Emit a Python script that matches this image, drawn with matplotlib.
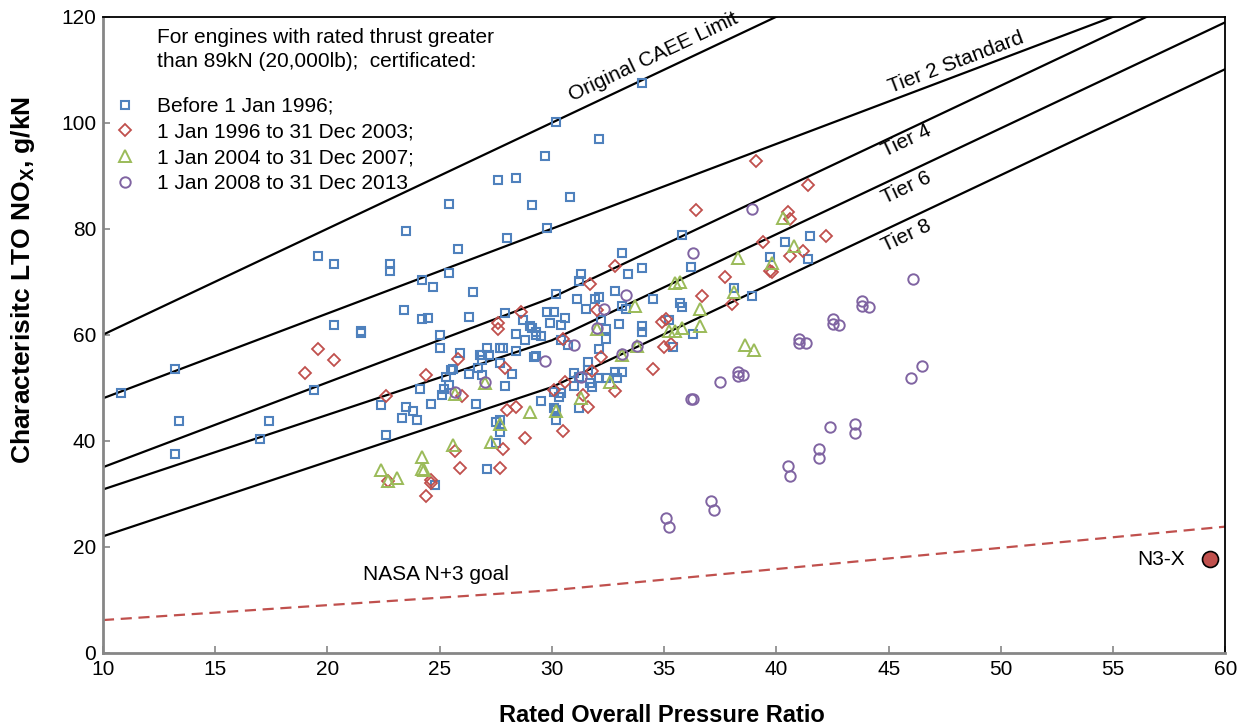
import numpy as np
import matplotlib
matplotlib.use("Agg")
import matplotlib.pyplot as plt

plt.rcParams['font.family'] = ['Liberation Sans', 'DejaVu Sans']
plt.rcParams['mathtext.fontset'] = 'custom'
plt.rcParams['mathtext.rm'] = 'Liberation Sans'
plt.rcParams['mathtext.bf'] = 'Liberation Sans:bold'

# ---------------- data ----------------
# regulatory limit lines (OPR breakpoints, g/kN)
limit_opr = [10, 30, 60]
caee_orig = [60, 100, 160]
tier2 = [48, 80, 128]
tier4 = [35, 67, 127]
tier6 = [30.8, 58.96, 118.96]
tier8 = [21.96, 50.12, 110.12]
nasa_n3 = [6.16, 11.79, 23.79]

# Before 1 Jan 1996
pre96_opr = [10.8, 13.2, 13.4, 13.2, 17.0, 17.4, 19.6, 20.3, 20.3, 21.5, 21.5,
             22.8, 22.8, 23.5, 23.4, 24.2, 24.2, 24.5, 24.7, 25.4, 25.4, 25.8, 26.3, 26.5, 25.0, 25.0, 25.9,
             19.4, 22.4, 24.1, 23.5, 23.8, 23.3, 24.0, 24.6, 25.1, 25.2, 25.4, 25.3, 25.5, 25.6, 26.3, 26.6, 22.6, 24.8,
             26.9, 26.9, 27.1, 27.2, 27.8, 26.7, 27.7, 27.9, 27.5, 27.7, 27.7, 27.5, 27.1,
             27.6, 28.4, 29.7, 30.2, 32.1, 34.0, 29.1, 30.8, 29.8, 28.0, 35.8, 40.4, 41.5,
             33.1, 34.0, 33.4, 31.3, 31.2, 30.2, 31.1, 32.1, 32.8, 31.5, 31.9, 33.1, 33.3, 27.9, 29.8, 30.1, 30.6,
             29.9, 30.4, 28.7, 29.0, 29.1, 29.3, 28.4, 33.0, 34.0, 34.0, 32.2, 32.4, 32.4, 32.1,
             28.8, 29.3, 29.5, 30.4, 30.7, 27.7, 28.4, 26.8, 29.2, 29.3, 26.9, 28.2,
             31.0, 31.0, 31.2, 31.6, 31.6, 31.7, 31.8, 32.1, 32.8, 33.1, 32.9, 32.4,
             30.1, 30.3, 30.4, 30.1, 30.2, 30.2, 29.5, 31.2,
             35.4, 35.2, 36.3, 34.5, 35.7, 35.8, 36.2, 39.7, 41.4, 38.1, 38.9]
pre96_nox = [49.0, 53.5, 43.7, 37.4, 40.4, 43.8, 74.9, 73.4, 61.9, 60.7, 60.4,
             73.3, 72.0, 79.6, 64.7, 70.3, 63.0, 63.1, 69.0, 84.7, 71.6, 76.2, 63.3, 68.1, 60.0, 57.5, 56.6,
             49.5, 46.7, 49.7, 46.4, 45.6, 44.3, 44.0, 46.9, 48.6, 49.7, 50.5, 52.0, 53.3, 53.5, 52.5, 47.0, 41.0, 31.7,
             56.1, 55.2, 57.5, 56.2, 57.5, 53.8, 54.7, 50.3, 43.6, 44.0, 41.7, 39.6, 34.7,
             89.2, 89.6, 93.8, 100.2, 96.9, 107.5, 84.5, 86.0, 80.2, 78.3, 78.9, 77.4, 78.6,
             75.5, 72.5, 71.4, 71.4, 70.1, 67.7, 66.7, 67.2, 68.2, 64.9, 66.7, 65.5, 64.9, 64.0, 64.3, 64.2, 63.2,
             62.3, 61.9, 62.8, 61.6, 61.3, 60.6, 60.1, 62.1, 61.6, 60.6, 62.8, 61.1, 59.1, 57.3,
             59.0, 59.9, 59.8, 59.0, 58.1, 57.4, 56.9, 56.2, 55.7, 56.0, 52.4, 52.6,
             52.8, 50.3, 52.0, 54.9, 53.3, 50.9, 50.1, 51.8, 53.0, 53.0, 51.8, 51.8,
             49.2, 48.3, 49.0, 46.1, 45.7, 43.9, 47.4, 46.1,
             57.7, 62.8, 60.1, 66.7, 65.9, 65.3, 72.8, 74.6, 74.2, 68.9, 67.3]

# 1 Jan 1996 to 31 Dec 2003
p9603_opr = [19.0, 19.6, 20.3, 22.6, 24.4, 25.8, 26.0, 25.7, 25.9, 22.7, 24.6, 24.6, 24.4,
             27.6, 27.6, 27.9, 28.0, 27.8, 27.7, 28.4, 28.8, 28.6,
             30.5, 32.2, 31.8, 30.6, 30.1, 31.4, 32.8, 31.6, 30.5, 31.7, 32.8, 32.0,
             39.1, 41.4, 36.4, 40.5, 40.6, 42.2, 39.4, 41.2, 40.6, 39.7, 39.8, 37.7, 36.7, 38.0,
             35.1, 34.9, 34.5, 35.0, 35.3]
p9603_nox = [52.7, 57.3, 55.3, 48.5, 52.4, 55.4, 48.4, 38.0, 34.8, 32.4, 32.6, 32.0, 29.5,
             62.3, 61.0, 53.8, 45.8, 38.4, 34.9, 46.3, 40.5, 64.2,
             59.1, 55.8, 53.2, 51.1, 49.6, 48.6, 49.3, 46.3, 41.8, 69.5, 72.9, 64.7,
             92.8, 88.2, 83.5, 83.2, 81.9, 78.7, 77.4, 75.8, 74.8, 72.1, 71.8, 70.9, 67.3, 65.7,
             62.9, 62.4, 53.5, 57.7, 58.2]

# 1 Jan 2004 to 31 Dec 2007
p0407_opr = [22.4, 22.7, 23.1, 24.2, 24.2, 24.3, 25.6, 25.7, 27.0, 27.3, 27.7, 29.0, 30.2, 31.3,
             32.6, 33.1, 33.8, 32.0, 33.7, 35.2, 35.5, 35.8, 36.6, 36.6, 35.5, 35.7, 38.1, 38.3,
             39.8, 40.3, 40.8, 38.6, 39.0]
p0407_nox = [34.4, 32.4, 32.9, 37.0, 34.7, 34.5, 39.2, 48.9, 50.8, 39.7, 43.1, 45.5, 45.6, 48.0,
             51.1, 56.2, 57.8, 61.0, 65.5, 60.7, 60.7, 61.2, 61.7, 64.8, 69.7, 69.9, 68.0, 74.5,
             73.5, 82.0, 76.7, 58.0, 57.2]

# 1 Jan 2008 to 31 Dec 2013
p0813_opr = [25.7, 27.0, 29.7, 31.0, 31.3, 32.0, 32.3, 33.3, 33.1, 33.8, 36.3, 38.9, 36.2, 36.3,
             37.5, 38.3, 38.3, 38.5, 41.0, 41.0, 41.3, 42.5, 42.5, 42.8, 43.8, 43.8, 44.1, 46.1,
             46.0, 46.5, 42.4, 43.5, 43.5, 41.9, 41.9, 40.5, 40.6, 37.1, 37.2, 35.1, 35.2]
p0813_nox = [49.1, 51.0, 55.0, 58.1, 52.1, 61.2, 64.8, 67.4, 56.3, 57.9, 75.5, 83.8, 47.8, 47.8,
             51.0, 53.0, 52.2, 52.4, 59.2, 58.4, 58.5, 62.9, 62.0, 61.8, 66.4, 65.5, 65.2, 70.5,
             51.9, 54.0, 42.5, 43.2, 41.4, 38.5, 36.7, 35.2, 33.4, 28.7, 26.9, 25.4, 23.8]

n3x_opr = [59.3]
n3x_nox = [17.6]

series_labels = ["Before 1 Jan 1996;", "1 Jan 1996 to 31 Dec 2003;",
                 "1 Jan 2004 to 31 Dec 2007;", "1 Jan 2008 to 31 Dec 2013"]

BLUE, RED, GREEN, PURPLE = '#4F81BD', '#C0504D', '#9BBB59', '#8064A2'

fig = plt.figure(figsize=(12.45, 7.25), dpi=100)
ax = fig.add_axes([0.0827, 0.0997, 0.9016, 0.8773])

# limit lines
for ys in (caee_orig, tier2, tier4, tier6, tier8):
    ax.plot(limit_opr, ys, color='black', lw=1.6, solid_capstyle='butt', zorder=2)
ax.plot(limit_opr, nasa_n3, color=RED, lw=1.6, ls=(0, (5, 3)), zorder=2)

# scatter series
h1, = ax.plot(pre96_opr, pre96_nox, ls='none', marker='s', ms=5.6, mfc='none',
              mec=BLUE, mew=1.5, label=series_labels[0], zorder=3)
h2, = ax.plot(p9603_opr, p9603_nox, ls='none', marker='D', ms=6.2, mfc='none',
              mec=RED, mew=1.3, label=series_labels[1], zorder=3)
h3, = ax.plot(p0407_opr, p0407_nox, ls='none', marker='^', ms=8, mfc='none',
              mec=GREEN, mew=1.4, label=series_labels[2], zorder=3)
h4, = ax.plot(p0813_opr, p0813_nox, ls='none', marker='o', ms=7.5, mfc='none',
              mec=PURPLE, mew=1.4, label=series_labels[3], zorder=3)
ax.plot(n3x_opr, n3x_nox, ls='none', marker='o', ms=11.5, mfc=RED, mec='black',
        mew=1.2, zorder=4)

ax.set_xlim(10, 60)
ax.set_ylim(0, 120)
ax.set_xticks(np.arange(10, 61, 5))
ax.set_yticks(np.arange(0, 121, 20))
ax.tick_params(direction='in', length=5, width=1.2, labelsize=15, labelcolor='black',
               color='#868686', pad=5)
for s in ('left', 'bottom'):
    ax.spines[s].set_color('#868686')
    ax.spines[s].set_linewidth(2)
for s in ('top', 'right'):
    ax.spines[s].set_color('black')
    ax.spines[s].set_linewidth(1.3)

ax.set_xlabel("Rated Overall Pressure Ratio", fontsize=17, fontweight='bold')
ax.xaxis.set_label_coords(0.498, -0.080)
ax.set_ylabel(r"Characterisitc LTO NO$_\mathbf{X}$, g/kN", fontsize=19, fontweight='bold')
ax.yaxis.set_label_coords(-0.059, 0.586)

# line labels
def slope_angle(xs, ys, i):
    return np.degrees(np.arctan((ys[i + 1] - ys[i]) / (xs[i + 1] - xs[i])))

label_kw = dict(fontsize=15, ha='center', va='center', transform_rotates_text=True,
                rotation_mode='anchor')
ax.text(34.5, 112.3, "Original CAEE Limit", rotation=slope_angle(limit_opr, caee_orig, 1), **label_kw)
ax.text(48.0, 111.3, "Tier 2 Standard", rotation=slope_angle(limit_opr, tier2, 1), **label_kw)
ax.text(45.8, 96.6, "Tier 4", rotation=slope_angle(limit_opr, tier4, 1), **label_kw)
ax.text(45.8, 87.7, "Tier 6", rotation=slope_angle(limit_opr, tier6, 1), **label_kw)
ax.text(45.8, 78.7, "Tier 8", rotation=slope_angle(limit_opr, tier8, 1), **label_kw)
ax.text(21.6, 14.8, "NASA N+3 goal", fontsize=15, ha='left', va='center')
ax.text(58.2, 17.5, "N3-X", fontsize=15, ha='right', va='center')

# header + legend
ax.text(0.048, 0.968, "For engines with rated thrust greater", transform=ax.transAxes,
        fontsize=15, ha='left', va='center')
ax.text(0.048, 0.929, "than 89kN (20,000lb);  certificated:", transform=ax.transAxes,
        fontsize=15, ha='left', va='center')
leg = ax.legend(handles=[h1, h2, h3, h4], loc='upper left', bbox_to_anchor=(0.0103, 0.874),
                frameon=False, fontsize=15, handlelength=1.0, handletextpad=1.04,
                borderpad=0, borderaxespad=0, labelspacing=0.32, markerscale=1.0)

fig.savefig("out.png", dpi=100)
